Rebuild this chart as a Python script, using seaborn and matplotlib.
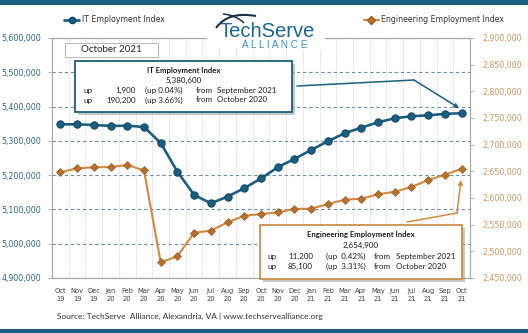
import numpy as np
import pandas as pd
import matplotlib
matplotlib.use("Agg")
import matplotlib.pyplot as plt
import seaborn as sns
from matplotlib.patches import Rectangle, PathPatch, FancyArrowPatch
from matplotlib.lines import Line2D
from matplotlib.path import Path

# ---------------- data ----------------
months = ["Oct\n19", "Nov\n19", "Dec\n19", "Jan\n20", "Feb\n20", "Mar\n20", "Apr\n20",
          "May\n20", "Jun\n20", "Jul\n20", "Aug\n20", "Sep\n20", "Oct\n20", "Nov\n20",
          "Dec\n20", "Jan\n21", "Feb\n21", "Mar\n21", "Apr\n21", "May\n21", "Jun\n21",
          "Jul\n21", "Aug\n21", "Sep\n21", "Oct\n21"]
it_index = [5348400, 5348000, 5346400, 5343400, 5344300, 5340500, 5293900,
            5210200, 5142300, 5118000, 5137300, 5162000, 5190400, 5223000,
            5247200, 5273500, 5298800, 5322200, 5338500, 5354200, 5365900,
            5371700, 5374600, 5378700, 5380600]
eng_index = [2648200, 2655700, 2657600, 2658000, 2661900, 2651900, 2479400,
             2490700, 2534900, 2538700, 2554400, 2566800, 2569800, 2573200,
             2579400, 2580000, 2588700, 2596800, 2598700, 2606900, 2611800,
             2620600, 2633700, 2643700, 2654900]
left_ticks = [4900000, 5000000, 5100000, 5200000, 5300000, 5400000, 5500000, 5600000]
right_ticks = [2450000, 2500000, 2550000, 2600000, 2650000, 2700000, 2750000,
               2800000, 2850000, 2900000]

it_title = "IT Employment Index"
it_value = "5,380,600"
it_rows = [("up", "1,900", "(up 0.04%)", "from", "September 2021"),
           ("up", "190,200", "(up 3.66%)", "from", "October 2020")]
eng_title = "Engineering Employment Index"
eng_value = "2,654,900"
eng_rows = [("up", "11,200", "(up  0.42%)", "from", "September 2021"),
            ("up", "85,100", "(up  3.31%)", "from", "October 2020")]
period_label = "October 2021"
source_text = "Source: TechServe  Alliance, Alexandria, VA | www.techservealliance.org"

# ---------------- style ----------------
sns.set_theme(style="white")
plt.rcParams["font.family"] = ["DejaVu Sans"]

W, H = 528, 333
IT_C = "#1B5F80"
IT_EDGE = "#0F4460"
ENG_C = "#D4883F"
ENG_M = "#B8702E"
LEFT_TXT = "#2E6686"
RIGHT_TXT = "#C9965E"
SPINE = "#A8A8A8"
BOXFONT = ["Lato", "DejaVu Sans"]


def fx(x):
    return x / W


def fy(y):
    return 1 - y / H


fig = plt.figure(figsize=(W / 100, H / 100), dpi=100)
fig.patch.set_facecolor("white")
ax = fig.add_axes([fx(52), fy(278), (470 - 52) / W, (278 - 38) / H])
ax2 = ax.twinx()

df = pd.DataFrame({"month": months, "it": it_index, "eng": eng_index})

sns.lineplot(data=df, x="month", y="it", ax=ax, sort=False, color=IT_C, lw=1.9,
             marker="o", markersize=5.3, markerfacecolor=IT_C,
             markeredgecolor=IT_EDGE, markeredgewidth=0.7, legend=False, zorder=5)
sns.lineplot(data=df, x="month", y="eng", ax=ax2, sort=False, color=ENG_C, lw=1.5,
             marker="D", markersize=4.3, markerfacecolor=ENG_M,
             markeredgecolor="#9A5A20", markeredgewidth=0.5, legend=False, zorder=5)

n = len(months)
ax.set_xlim(-0.5, n - 0.5)
ax.set_ylim(left_ticks[0], left_ticks[-1])
ax2.set_ylim(right_ticks[0], right_ticks[-1])

ax.set_yticks(left_ticks)
ax.set_yticklabels([f"{v:,}" for v in left_ticks])
ax2.set_yticks(right_ticks)
ax2.set_yticklabels([f"{v:,}" for v in right_ticks])

ax.set_xticks(range(n))
ax.set_xticklabels(months, linespacing=1.45)
ax.set_xticks(np.arange(-0.5, n, 1), minor=True)

ax.tick_params(axis="x", which="major", length=0, labelsize=4.9, colors="#404040", pad=7)
ax.tick_params(axis="x", which="minor", length=3, color=SPINE, width=0.6, direction="out")
ax.tick_params(axis="y", length=3, color=SPINE, width=0.6, direction="out",
               labelsize=5.7, labelcolor=LEFT_TXT, pad=5, left=True)
ax2.tick_params(axis="y", length=3, color=SPINE, width=0.6, direction="out",
                labelsize=5.7, labelcolor=RIGHT_TXT, pad=6, right=True)
ax.set_xlabel("")
ax.set_ylabel("")
ax2.set_ylabel("")

ax.grid(False)
ax2.grid(False)
ax.xaxis.grid(True, which="minor", color="#CFCFCF", lw=0.6, ls=(0, (1.5, 1.5)))
ax.yaxis.grid(True, which="major", color="#6F8C9C", lw=0.8, ls=(0, (3, 2.5)))
ax.set_axisbelow(True)

for a in (ax, ax2):
    for s in a.spines.values():
        s.set_color(SPINE)
        s.set_linewidth(0.8)
        s.set_visible(True)

# ---------------- frame bars ----------------
fig.add_artist(Rectangle((0, fy(5)), 1, 5 / H, transform=fig.transFigure,
                         color="#1A5E80", lw=0))
fig.add_artist(Rectangle((0, 0), 1, 4 / H, transform=fig.transFigure,
                         color="#1A5E80", lw=0))

# ---------------- legends ----------------
it_handle = Line2D([], [], color=IT_C, lw=2, marker="o", markersize=4.5,
                   markerfacecolor=IT_C, markeredgecolor=IT_EDGE)
eng_handle = Line2D([], [], color=ENG_C, lw=1.6, marker="D", markersize=3.8,
                    markerfacecolor=ENG_M, markeredgecolor="#9A5A20")
leg1 = fig.legend(handles=[it_handle], labels=[it_title], loc="center left",
                  bbox_to_anchor=(fx(60), fy(20)), frameon=False, fontsize=5.6,
                  handlelength=2.0, handletextpad=0.3, borderpad=0)
leg2 = fig.legend(handles=[eng_handle], labels=[eng_title], loc="center left",
                  bbox_to_anchor=(fx(360), fy(20)), frameon=False, fontsize=5.6,
                  handlelength=1.9, handletextpad=0.3, borderpad=0)
for t in leg1.get_texts() + leg2.get_texts():
    t.set_color("#333333")

# ---------------- logo ----------------
fig.add_artist(Rectangle((fx(207), fy(50)), (325 - 207) / W, 44 / H,
                         transform=fig.transFigure, color="white", lw=0, zorder=8))
sw = Path([(fx(216), fy(28)), (fx(228), fy(11)), (fx(256), fy(16))],
          [Path.MOVETO, Path.CURVE3, Path.CURVE3])
fig.add_artist(PathPatch(sw, transform=fig.transFigure, fc="none", ec="#1B2F4A",
                         lw=1.5, zorder=9))
sw2 = Path([(fx(223), fy(14)), (fx(236), fy(15)), (fx(244), fy(23))],
           [Path.MOVETO, Path.CURVE3, Path.CURVE3])
fig.add_artist(PathPatch(sw2, transform=fig.transFigure, fc="none", ec="#1B2F4A",
                         lw=1.1, zorder=9))
fig.text(fx(267), fy(37), "TechServe", fontsize=14.5, color="#1B6690",
         family=["Liberation Sans", "DejaVu Sans"], ha="center", va="baseline", zorder=10)
fig.text(fx(275), fy(44.5), "A L L I A N C E", fontsize=7.2, color="#3D8FBE",
         family=["Liberation Sans", "DejaVu Sans"], ha="center", va="center", zorder=10)

# ---------------- October 2021 box ----------------
fig.add_artist(Rectangle((fx(65), fy(57)), (158 - 65) / W, 14 / H,
                         transform=fig.transFigure, fc="white", ec="#BBBBBB", lw=0.8,
                         zorder=8))
fig.text(fx(111.5), fy(50), period_label, fontsize=7, color="#222222", family=BOXFONT,
         ha="center", va="center", zorder=9)


# ---------------- info boxes ----------------
def info_box(x0, y0, x1, y1, ec, title, value, rows, cols, ty, vy, ry):
    fig.add_artist(Rectangle((fx(x0 + 2.5), fy(y1 + 2.5)), (x1 - x0) / W, (y1 - y0) / H,
                             transform=fig.transFigure, fc="#9A9A9A", ec="none",
                             alpha=0.55, zorder=8))
    fig.add_artist(Rectangle((fx(x0), fy(y1)), (x1 - x0) / W, (y1 - y0) / H,
                             transform=fig.transFigure, fc="white", ec=ec, lw=1.3,
                             zorder=9))
    cx = (x0 + x1) / 2
    fig.text(fx(cx), fy(ty), title, fontsize=5.6, weight="bold", color="#1A1A1A",
             family=BOXFONT, ha="center", va="center", zorder=10)
    fig.text(fx(cx), fy(vy), value, fontsize=5.8, color="#1A1A1A", family=BOXFONT,
             ha="center", va="center", zorder=10)
    for row, yy in zip(rows, ry):
        for txt, (xx, ha) in zip(row, cols):
            fig.text(fx(xx), fy(yy), txt, fontsize=5.8, color="#1A1A1A", family=BOXFONT,
                     ha=ha, va="center", zorder=10)


info_box(75, 61, 292, 112, "#1B5F80", it_title, it_value, it_rows,
         [(83, "left"), (136, "right"), (145, "left"), (196, "left"), (217, "left")],
         70, 80.5, [90.5, 100])
info_box(260, 225, 462, 279, "#C8904F", eng_title, eng_value, eng_rows,
         [(268, "left"), (313, "right"), (326, "left"), (374, "left"), (396, "left")],
         234.5, 245, [256.5, 266.5])


# ---------------- callout arrows ----------------
def callout(pts, color):
    xs = [fx(p[0]) for p in pts]
    ys = [fy(p[1]) for p in pts]
    fig.add_artist(Line2D(xs[:-1], ys[:-1], transform=fig.transFigure, color=color,
                          lw=1.1, zorder=7))
    fig.add_artist(FancyArrowPatch(
        (xs[-2], ys[-2]), (xs[-1], ys[-1]), transform=fig.transFigure,
        arrowstyle="-|>", mutation_scale=6, color=color, lw=1.1, zorder=7,
        shrinkA=0, shrinkB=0))


callout([(297, 86), (414, 80), (459, 108)], "#1B5F80")
callout([(407, 222), (457, 213), (461, 180)], "#D4883F")

# ---------------- source ----------------
fig.text(fx(57), fy(316), source_text, fontsize=6.0, color="#333333", family=BOXFONT,
         ha="left", va="center")

fig.savefig("out.png", dpi=100, facecolor="white")
